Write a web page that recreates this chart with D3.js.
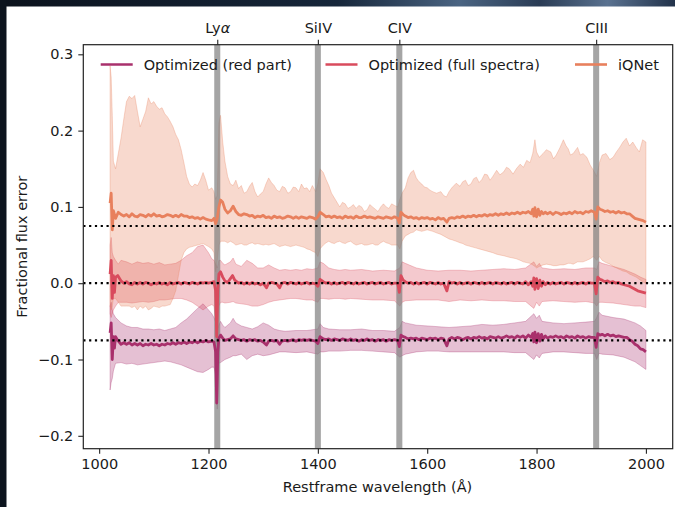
<!DOCTYPE html>
<html><head><meta charset="utf-8">
<script src="https://cdn.jsdelivr.net/npm/d3@7"></script>
<style>body{margin:0;background:#fff}svg{display:block}text{font-family:"DejaVu Sans",sans-serif}</style>
</head><body><svg id="c" width="675" height="507"></svg>
<script>
// ---- data ----
const seriesNames = ["Optimized (red part)", "Optimized (full spectra)", "iQNet"];
const seriesColors = ["#a9306c", "#d94b5d", "#e8805d"];
const xTicks = [1000, 1200, 1400, 1600, 1800, 2000];
const yTicks = [-0.2, -0.1, 0.0, 0.1, 0.2, 0.3];
const refLevels = [0.075, 0.0, -0.075];
const lineNames = ["Ly\u03b1", "SiIV", "CIV", "CIII"];
const lineWaves = [1216, 1400, 1549, 1909];

// [wavelength, median]
const redMedian = [[1020,-0.065],[1022,-0.052],[1024,-0.1],[1026,-0.07],[1028,-0.085],[1030,-0.07],[1034,-0.075],[1040,-0.08],[1045,-0.078],[1050,-0.08],[1055,-0.078],[1060,-0.081],[1065,-0.079],[1070,-0.081],[1075,-0.079],[1080,-0.082],[1085,-0.08],[1090,-0.081],[1095,-0.079],[1100,-0.081],[1105,-0.08],[1110,-0.082],[1115,-0.08],[1120,-0.081],[1125,-0.079],[1130,-0.08],[1135,-0.078],[1140,-0.08],[1145,-0.078],[1150,-0.079],[1155,-0.077],[1160,-0.079],[1165,-0.077],[1170,-0.078],[1175,-0.076],[1180,-0.078],[1185,-0.076],[1190,-0.077],[1195,-0.075],[1200,-0.077],[1206,-0.076],[1210,-0.077],[1213,-0.09],[1215,-0.157],[1217,-0.09],[1219,-0.072],[1222,-0.068],[1226,-0.072],[1230,-0.075],[1235,-0.074],[1240,-0.073],[1245,-0.069],[1250,-0.073],[1255,-0.074],[1260,-0.075],[1265,-0.074],[1270,-0.076],[1275,-0.074],[1280,-0.075],[1285,-0.074],[1290,-0.076],[1295,-0.075],[1300,-0.077],[1306,-0.081],[1310,-0.076],[1315,-0.075],[1320,-0.076],[1325,-0.075],[1330,-0.08],[1334,-0.076],[1340,-0.075],[1345,-0.076],[1350,-0.075],[1355,-0.074],[1360,-0.076],[1365,-0.074],[1370,-0.075],[1375,-0.074],[1380,-0.075],[1385,-0.074],[1390,-0.075],[1396,-0.076],[1400,-0.079],[1404,-0.07],[1410,-0.073],[1415,-0.074],[1420,-0.073],[1425,-0.075],[1430,-0.073],[1435,-0.074],[1440,-0.075],[1445,-0.073],[1450,-0.074],[1455,-0.075],[1460,-0.073],[1465,-0.075],[1470,-0.074],[1475,-0.076],[1480,-0.074],[1485,-0.075],[1490,-0.073],[1495,-0.075],[1500,-0.074],[1505,-0.076],[1510,-0.074],[1515,-0.075],[1520,-0.074],[1525,-0.076],[1530,-0.074],[1535,-0.075],[1540,-0.074],[1546,-0.075],[1549,-0.083],[1552,-0.068],[1556,-0.07],[1560,-0.071],[1565,-0.073],[1570,-0.072],[1575,-0.073],[1580,-0.072],[1585,-0.074],[1590,-0.072],[1595,-0.073],[1600,-0.074],[1605,-0.072],[1610,-0.073],[1615,-0.072],[1620,-0.074],[1625,-0.072],[1630,-0.073],[1636,-0.082],[1640,-0.073],[1645,-0.071],[1650,-0.073],[1655,-0.071],[1660,-0.072],[1665,-0.074],[1670,-0.072],[1675,-0.071],[1680,-0.073],[1685,-0.071],[1690,-0.072],[1695,-0.07],[1700,-0.072],[1705,-0.071],[1710,-0.073],[1715,-0.07],[1720,-0.071],[1725,-0.072],[1730,-0.07],[1735,-0.072],[1740,-0.071],[1745,-0.069],[1750,-0.071],[1755,-0.07],[1760,-0.072],[1765,-0.069],[1770,-0.071],[1775,-0.069],[1780,-0.072],[1785,-0.068],[1790,-0.071],[1793,-0.066],[1795,-0.077],[1797,-0.064],[1800,-0.078],[1803,-0.066],[1806,-0.076],[1809,-0.067],[1812,-0.073],[1816,-0.069],[1820,-0.072],[1825,-0.07],[1830,-0.071],[1835,-0.069],[1840,-0.071],[1845,-0.07],[1850,-0.072],[1855,-0.069],[1860,-0.071],[1865,-0.07],[1870,-0.072],[1875,-0.069],[1880,-0.071],[1885,-0.07],[1890,-0.072],[1895,-0.07],[1900,-0.071],[1906,-0.071],[1909,-0.084],[1912,-0.066],[1916,-0.068],[1920,-0.067],[1925,-0.069],[1930,-0.067],[1935,-0.069],[1940,-0.068],[1945,-0.07],[1950,-0.069],[1955,-0.07],[1960,-0.071],[1965,-0.071],[1970,-0.074],[1975,-0.076],[1980,-0.08],[1985,-0.082],[1990,-0.086],[1995,-0.087],[2000,-0.09]];
// [wavelength, low, high]
const redBand = [[1020,-0.14,-0.03],[1022,-0.13,-0.025],[1024,-0.125,-0.035],[1026,-0.115,-0.04],[1030,-0.105,-0.045],[1040,-0.104,-0.052],[1050,-0.106,-0.056],[1060,-0.105,-0.058],[1070,-0.107,-0.058],[1080,-0.106,-0.06],[1090,-0.105,-0.06],[1100,-0.104,-0.061],[1110,-0.103,-0.06],[1120,-0.102,-0.062],[1130,-0.103,-0.06],[1140,-0.105,-0.058],[1150,-0.107,-0.052],[1160,-0.11,-0.047],[1170,-0.113,-0.04],[1180,-0.116,-0.033],[1190,-0.117,-0.027],[1200,-0.113,-0.035],[1206,-0.11,-0.04],[1210,-0.11,-0.045],[1213,-0.12,-0.05],[1216,-0.165,-0.06],[1219,-0.105,-0.055],[1222,-0.104,-0.05],[1226,-0.102,-0.055],[1230,-0.1,-0.058],[1240,-0.097,-0.052],[1245,-0.095,-0.046],[1250,-0.095,-0.052],[1260,-0.093,-0.056],[1270,-0.1,-0.058],[1280,-0.095,-0.06],[1290,-0.093,-0.057],[1300,-0.095,-0.052],[1310,-0.094,-0.055],[1320,-0.092,-0.06],[1330,-0.09,-0.062],[1340,-0.09,-0.063],[1360,-0.091,-0.062],[1380,-0.09,-0.062],[1400,-0.093,-0.06],[1404,-0.09,-0.053],[1410,-0.09,-0.058],[1420,-0.089,-0.06],[1440,-0.089,-0.061],[1460,-0.088,-0.061],[1480,-0.088,-0.06],[1500,-0.089,-0.062],[1520,-0.09,-0.062],[1540,-0.091,-0.063],[1550,-0.097,-0.058],[1554,-0.095,-0.05],[1560,-0.093,-0.052],[1580,-0.09,-0.055],[1600,-0.089,-0.056],[1620,-0.089,-0.057],[1640,-0.09,-0.058],[1660,-0.09,-0.057],[1680,-0.09,-0.056],[1700,-0.09,-0.054],[1720,-0.09,-0.055],[1740,-0.09,-0.054],[1760,-0.091,-0.052],[1780,-0.091,-0.05],[1795,-0.1,-0.04],[1800,-0.094,-0.046],[1805,-0.098,-0.042],[1810,-0.092,-0.05],[1830,-0.09,-0.052],[1850,-0.09,-0.053],[1870,-0.091,-0.052],[1890,-0.092,-0.051],[1906,-0.092,-0.05],[1910,-0.1,-0.045],[1914,-0.092,-0.038],[1920,-0.093,-0.042],[1940,-0.094,-0.045],[1960,-0.097,-0.047],[1980,-0.103,-0.052],[1990,-0.108,-0.056],[2000,-0.113,-0.062]];

const fullMedian = [[1020,0.012],[1022,0.03],[1024,-0.02],[1026,0.01],[1028,-0.012],[1030,0.008],[1034,0.01],[1040,0.003],[1045,0.0],[1050,0.002],[1055,-0.001],[1060,-0.002],[1065,0.001],[1070,-0.001],[1075,0.001],[1080,-0.001],[1085,0.001],[1090,0.0],[1095,-0.002],[1100,0.0],[1105,-0.001],[1110,0.001],[1115,-0.001],[1120,0.0],[1125,-0.002],[1130,0.001],[1135,-0.001],[1140,0.0],[1145,0.001],[1150,-0.001],[1155,0.001],[1160,0.0],[1165,-0.001],[1170,0.001],[1175,0.0],[1180,-0.001],[1185,0.001],[1190,0.0],[1195,0.001],[1200,0.0],[1206,0.001],[1210,0.002],[1213,-0.01],[1215,-0.07],[1217,-0.01],[1219,0.012],[1222,0.015],[1226,0.008],[1230,0.003],[1235,0.001],[1240,0.006],[1244,0.01],[1248,0.004],[1255,0.0],[1260,0.001],[1265,-0.001],[1270,0.001],[1275,-0.001],[1280,0.001],[1285,-0.001],[1290,0.0],[1295,-0.002],[1300,0.0],[1306,-0.006],[1310,0.0],[1315,0.001],[1320,0.0],[1325,-0.001],[1330,-0.006],[1334,0.0],[1340,0.001],[1345,-0.001],[1350,0.001],[1355,0.0],[1360,-0.001],[1365,0.001],[1370,-0.001],[1375,0.0],[1380,0.001],[1385,-0.001],[1390,0.0],[1396,-0.001],[1400,-0.004],[1404,0.005],[1410,0.002],[1415,0.0],[1420,0.001],[1425,-0.001],[1430,0.001],[1435,-0.001],[1440,0.0],[1445,0.001],[1450,-0.001],[1455,0.001],[1460,0.0],[1465,-0.001],[1470,0.001],[1475,-0.001],[1480,0.0],[1485,0.001],[1490,-0.001],[1495,0.0],[1500,0.001],[1505,-0.001],[1510,0.0],[1515,0.001],[1520,-0.001],[1525,0.0],[1530,0.001],[1535,-0.001],[1540,0.0],[1546,0.0],[1549,-0.012],[1552,0.01],[1556,0.004],[1560,0.002],[1565,0.0],[1570,0.001],[1575,-0.001],[1580,0.001],[1585,-0.001],[1590,0.0],[1595,0.001],[1600,-0.001],[1605,0.001],[1610,0.0],[1615,-0.001],[1620,0.001],[1625,-0.001],[1630,0.0],[1636,-0.01],[1640,0.002],[1645,0.0],[1650,0.001],[1655,-0.001],[1660,0.001],[1665,-0.001],[1670,0.0],[1675,0.001],[1680,-0.001],[1685,0.001],[1690,0.0],[1695,-0.001],[1700,0.001],[1705,-0.001],[1710,0.0],[1715,0.001],[1720,-0.001],[1725,0.001],[1730,0.0],[1735,-0.001],[1740,0.001],[1745,-0.001],[1750,0.0],[1755,0.001],[1760,-0.001],[1765,0.001],[1770,0.0],[1775,-0.001],[1780,0.002],[1785,-0.002],[1790,0.002],[1793,-0.004],[1795,0.007],[1797,-0.008],[1800,0.006],[1803,-0.007],[1806,0.004],[1809,-0.004],[1812,0.002],[1816,-0.002],[1820,0.001],[1825,-0.001],[1830,0.001],[1835,-0.001],[1840,0.0],[1845,0.001],[1850,-0.001],[1855,0.001],[1860,0.0],[1865,-0.001],[1870,0.001],[1875,-0.001],[1880,0.0],[1885,0.001],[1890,-0.001],[1895,0.001],[1900,0.0],[1906,0.0],[1909,-0.014],[1912,0.008],[1916,0.005],[1920,0.004],[1925,0.002],[1930,0.003],[1935,0.001],[1940,0.002],[1945,0.0],[1950,0.001],[1955,-0.001],[1960,-0.002],[1965,-0.003],[1970,-0.004],[1975,-0.006],[1980,-0.008],[1985,-0.01],[1990,-0.011],[1995,-0.012],[2000,-0.013]];
const fullBand = [[1020,-0.04,0.05],[1022,-0.045,0.06],[1024,-0.04,0.04],[1026,-0.035,0.035],[1030,-0.03,0.03],[1035,-0.025,0.025],[1040,-0.025,0.03],[1050,-0.025,0.028],[1060,-0.026,0.025],[1070,-0.025,0.028],[1080,-0.024,0.026],[1090,-0.025,0.027],[1100,-0.024,0.025],[1110,-0.022,0.027],[1120,-0.022,0.024],[1130,-0.021,0.025],[1140,-0.02,0.026],[1150,-0.02,0.03],[1160,-0.022,0.036],[1170,-0.025,0.04],[1180,-0.03,0.048],[1190,-0.035,0.05],[1200,-0.03,0.04],[1206,-0.028,0.032],[1210,-0.03,0.03],[1213,-0.05,0.025],[1216,-0.08,0.02],[1219,-0.03,0.03],[1222,-0.025,0.03],[1226,-0.025,0.026],[1230,-0.026,0.024],[1240,-0.025,0.028],[1245,-0.024,0.033],[1250,-0.026,0.025],[1260,-0.027,0.022],[1270,-0.028,0.03],[1280,-0.03,0.026],[1290,-0.03,0.02],[1300,-0.028,0.02],[1310,-0.025,0.024],[1320,-0.023,0.02],[1330,-0.022,0.017],[1340,-0.021,0.018],[1350,-0.02,0.017],[1360,-0.02,0.018],[1370,-0.021,0.017],[1380,-0.022,0.019],[1390,-0.022,0.018],[1400,-0.025,0.02],[1404,-0.02,0.028],[1410,-0.02,0.026],[1420,-0.021,0.02],[1430,-0.02,0.018],[1440,-0.02,0.017],[1450,-0.021,0.018],[1460,-0.02,0.017],[1480,-0.021,0.018],[1500,-0.022,0.016],[1520,-0.022,0.017],[1540,-0.023,0.016],[1550,-0.03,0.02],[1554,-0.025,0.028],[1560,-0.023,0.026],[1580,-0.022,0.02],[1600,-0.022,0.017],[1620,-0.022,0.016],[1640,-0.024,0.017],[1660,-0.022,0.017],[1680,-0.023,0.016],[1700,-0.022,0.017],[1720,-0.023,0.018],[1740,-0.023,0.019],[1760,-0.024,0.018],[1780,-0.024,0.02],[1795,-0.033,0.028],[1800,-0.025,0.022],[1805,-0.03,0.026],[1810,-0.024,0.02],[1830,-0.023,0.018],[1850,-0.024,0.019],[1870,-0.025,0.018],[1890,-0.024,0.02],[1906,-0.026,0.02],[1910,-0.03,0.018],[1914,-0.025,0.028],[1920,-0.025,0.026],[1940,-0.026,0.022],[1960,-0.028,0.018],[1980,-0.03,0.012],[1990,-0.03,0.008],[2000,-0.032,0.005]];

const iqnetMedian = [[1020,0.105],[1022,0.118],[1024,0.07],[1026,0.095],[1030,0.085],[1035,0.093],[1040,0.09],[1045,0.088],[1050,0.09],[1055,0.087],[1060,0.091],[1065,0.088],[1070,0.087],[1075,0.09],[1080,0.089],[1085,0.087],[1090,0.09],[1095,0.088],[1100,0.091],[1105,0.088],[1110,0.089],[1115,0.087],[1120,0.088],[1125,0.09],[1130,0.089],[1135,0.087],[1140,0.089],[1145,0.087],[1150,0.09],[1155,0.088],[1160,0.088],[1165,0.086],[1170,0.087],[1175,0.085],[1180,0.086],[1185,0.084],[1190,0.086],[1195,0.084],[1200,0.083],[1206,0.082],[1210,0.085],[1213,0.078],[1216,0.085],[1219,0.1],[1222,0.109],[1226,0.106],[1230,0.097],[1235,0.092],[1240,0.095],[1245,0.101],[1250,0.094],[1255,0.09],[1260,0.089],[1265,0.091],[1270,0.09],[1275,0.088],[1280,0.089],[1285,0.086],[1290,0.088],[1295,0.087],[1300,0.089],[1305,0.086],[1310,0.087],[1315,0.085],[1320,0.088],[1325,0.086],[1330,0.087],[1335,0.085],[1340,0.086],[1345,0.088],[1350,0.087],[1355,0.085],[1360,0.087],[1365,0.085],[1370,0.087],[1375,0.086],[1380,0.085],[1385,0.087],[1390,0.086],[1396,0.084],[1400,0.087],[1404,0.093],[1410,0.09],[1415,0.087],[1420,0.088],[1425,0.086],[1430,0.088],[1435,0.086],[1440,0.087],[1445,0.085],[1450,0.088],[1455,0.086],[1460,0.087],[1465,0.085],[1470,0.088],[1475,0.086],[1480,0.086],[1485,0.088],[1490,0.086],[1495,0.087],[1500,0.086],[1505,0.085],[1510,0.087],[1515,0.086],[1520,0.085],[1525,0.087],[1530,0.086],[1535,0.085],[1540,0.087],[1546,0.085],[1549,0.079],[1552,0.093],[1556,0.09],[1560,0.088],[1565,0.086],[1570,0.087],[1575,0.085],[1580,0.086],[1585,0.084],[1590,0.086],[1595,0.085],[1600,0.086],[1605,0.084],[1610,0.085],[1615,0.083],[1620,0.086],[1625,0.084],[1630,0.085],[1636,0.08],[1640,0.085],[1645,0.086],[1650,0.085],[1655,0.087],[1660,0.086],[1665,0.088],[1670,0.086],[1675,0.088],[1680,0.087],[1685,0.089],[1690,0.087],[1695,0.089],[1700,0.088],[1705,0.09],[1710,0.088],[1715,0.09],[1720,0.089],[1725,0.091],[1730,0.089],[1735,0.091],[1740,0.09],[1745,0.092],[1750,0.09],[1755,0.092],[1760,0.091],[1765,0.093],[1770,0.091],[1775,0.093],[1780,0.092],[1785,0.094],[1790,0.091],[1793,0.097],[1795,0.088],[1797,0.099],[1800,0.087],[1803,0.097],[1806,0.089],[1809,0.094],[1812,0.091],[1816,0.093],[1820,0.091],[1825,0.093],[1830,0.09],[1835,0.093],[1840,0.092],[1845,0.09],[1850,0.092],[1855,0.091],[1860,0.093],[1865,0.091],[1870,0.094],[1875,0.092],[1880,0.093],[1885,0.091],[1890,0.094],[1895,0.093],[1900,0.095],[1906,0.093],[1909,0.084],[1912,0.1],[1916,0.097],[1920,0.096],[1925,0.094],[1930,0.095],[1935,0.093],[1940,0.094],[1945,0.092],[1950,0.094],[1955,0.092],[1960,0.093],[1965,0.091],[1970,0.091],[1975,0.088],[1980,0.085],[1985,0.084],[1990,0.083],[1995,0.082],[2000,0.08]];
const iqnetBand = [[1020,-0.03,0.285],[1022,-0.035,0.27],[1024,-0.03,0.22],[1026,-0.02,0.16],[1030,-0.02,0.15],[1035,-0.025,0.17],[1040,-0.03,0.19],[1045,-0.03,0.215],[1050,-0.03,0.238],[1055,-0.03,0.245],[1060,-0.032,0.242],[1065,-0.03,0.246],[1070,-0.035,0.225],[1075,-0.03,0.205],[1080,-0.033,0.215],[1085,-0.03,0.225],[1090,-0.035,0.243],[1095,-0.033,0.235],[1100,-0.03,0.238],[1105,-0.031,0.232],[1110,-0.032,0.228],[1115,-0.03,0.23],[1120,-0.03,0.222],[1125,-0.029,0.218],[1130,-0.028,0.212],[1135,-0.02,0.205],[1140,-0.01,0.195],[1145,0.01,0.188],[1150,0.03,0.175],[1155,0.04,0.158],[1160,0.045,0.14],[1165,0.047,0.13],[1170,0.048,0.126],[1175,0.049,0.13],[1180,0.05,0.128],[1185,0.051,0.135],[1190,0.052,0.145],[1195,0.05,0.135],[1200,0.048,0.122],[1206,0.045,0.125],[1210,0.04,0.12],[1213,0.015,0.11],[1216,0.03,0.115],[1219,0.05,0.21],[1222,0.055,0.22],[1226,0.055,0.185],[1230,0.055,0.16],[1235,0.053,0.14],[1240,0.055,0.13],[1245,0.053,0.128],[1250,0.05,0.135],[1255,0.051,0.124],[1260,0.052,0.128],[1265,0.05,0.118],[1270,0.05,0.12],[1275,0.052,0.127],[1280,0.053,0.132],[1285,0.051,0.12],[1290,0.052,0.113],[1295,0.051,0.117],[1300,0.05,0.12],[1305,0.051,0.13],[1310,0.05,0.138],[1315,0.051,0.132],[1320,0.052,0.128],[1325,0.05,0.122],[1330,0.048,0.12],[1335,0.049,0.127],[1340,0.05,0.125],[1345,0.049,0.118],[1350,0.048,0.12],[1355,0.049,0.126],[1360,0.05,0.125],[1365,0.049,0.12],[1370,0.048,0.13],[1375,0.047,0.124],[1380,0.045,0.125],[1385,0.044,0.12],[1390,0.042,0.128],[1396,0.04,0.12],[1400,0.035,0.13],[1404,0.045,0.15],[1410,0.05,0.145],[1415,0.053,0.136],[1420,0.055,0.128],[1425,0.053,0.118],[1430,0.052,0.112],[1435,0.054,0.106],[1440,0.055,0.1],[1445,0.053,0.106],[1450,0.052,0.104],[1455,0.054,0.098],[1460,0.055,0.1],[1465,0.052,0.103],[1470,0.05,0.098],[1475,0.051,0.102],[1480,0.052,0.1],[1485,0.05,0.094],[1490,0.05,0.096],[1495,0.051,0.103],[1500,0.052,0.1],[1505,0.05,0.097],[1510,0.05,0.094],[1515,0.053,0.1],[1520,0.055,0.104],[1525,0.053,0.1],[1530,0.052,0.098],[1535,0.05,0.104],[1540,0.05,0.102],[1546,0.05,0.1],[1550,0.045,0.11],[1554,0.055,0.118],[1560,0.062,0.125],[1565,0.064,0.138],[1570,0.066,0.145],[1575,0.067,0.148],[1580,0.07,0.138],[1585,0.069,0.133],[1590,0.068,0.13],[1595,0.069,0.126],[1600,0.07,0.125],[1605,0.069,0.122],[1610,0.068,0.12],[1617,0.066,0.118],[1625,0.064,0.12],[1630,0.062,0.115],[1635,0.06,0.113],[1640,0.058,0.12],[1645,0.057,0.125],[1653,0.055,0.131],[1660,0.053,0.127],[1665,0.052,0.133],[1670,0.05,0.135],[1675,0.049,0.128],[1680,0.048,0.13],[1685,0.047,0.137],[1690,0.046,0.139],[1695,0.045,0.132],[1700,0.044,0.136],[1705,0.043,0.143],[1710,0.042,0.142],[1715,0.041,0.135],[1720,0.04,0.14],[1727,0.038,0.148],[1733,0.037,0.142],[1740,0.036,0.146],[1745,0.035,0.152],[1750,0.034,0.15],[1757,0.033,0.143],[1763,0.032,0.15],[1770,0.03,0.156],[1776,0.028,0.152],[1782,0.027,0.161],[1788,0.026,0.158],[1793,0.024,0.17],[1797,0.022,0.188],[1800,0.02,0.172],[1805,0.022,0.165],[1812,0.024,0.17],[1818,0.025,0.175],[1826,0.024,0.172],[1831,0.023,0.163],[1836,0.023,0.168],[1843,0.024,0.178],[1849,0.024,0.188],[1854,0.025,0.18],[1858,0.026,0.176],[1862,0.026,0.168],[1867,0.025,0.17],[1875,0.028,0.178],[1880,0.028,0.168],[1885,0.028,0.17],[1892,0.03,0.165],[1898,0.032,0.155],[1904,0.035,0.148],[1910,0.03,0.14],[1915,0.035,0.158],[1920,0.03,0.168],[1927,0.027,0.17],[1934,0.025,0.162],[1940,0.022,0.165],[1946,0.02,0.172],[1952,0.018,0.178],[1958,0.016,0.185],[1964,0.015,0.19],[1970,0.012,0.18],[1976,0.01,0.185],[1982,0.008,0.178],[1988,0.005,0.172],[1994,0.002,0.188],[2000,0.0,0.185]];

const medians = [redMedian, fullMedian, iqnetMedian];
const bands = [redBand, fullBand, iqnetBand];

// ---- layout ----
const svg = d3.select("#c");
const L = 83.3, R = 672.7, T = 44.7, B = 448.7;
const x = d3.scaleLinear().domain([971, 2049]).range([L, R]);
const y = d3.scaleLinear().domain([-0.2169, 0.3126]).range([B, T]);

// screenshot background strips
const defs = svg.append("defs");
const g1 = defs.append("linearGradient").attr("id", "bgtop").attr("x1", 0).attr("x2", 1).attr("y1", 0).attr("y2", 0);
[[0, "#0b121c"], [0.5, "#16263a"], [0.68, "#4a6482"], [0.8, "#2a3c55"], [0.9, "#5a7290"], [1, "#22324a"]].forEach(s => g1.append("stop").attr("offset", s[0]).attr("stop-color", s[1]));
svg.append("rect").attr("x", 0).attr("y", 0).attr("width", 675).attr("height", 507).attr("fill", "#fff");
svg.append("rect").attr("x", 0).attr("y", 0).attr("width", 675).attr("height", 6.5).attr("fill", "url(#bgtop)");
svg.append("rect").attr("x", 0).attr("y", 0).attr("width", 6.5).attr("height", 507).attr("fill", "#0c141e");

defs.append("clipPath").attr("id", "clip").append("rect").attr("x", L).attr("y", T).attr("width", R - L).attr("height", B - T);
const plot = svg.append("g").attr("clip-path", "url(#clip)");

const area = d3.area().x(d => x(d[0])).y0(d => y(d[1])).y1(d => y(d[2]));
const line = d3.line().x(d => x(d[0])).y(d => y(d[1]));

// fills
bands.forEach((b, i) => {
  plot.append("path").datum(b).attr("d", area)
    .attr("fill", seriesColors[i]).attr("fill-opacity", 0.3)
    .attr("stroke", seriesColors[i]).attr("stroke-opacity", 0.3).attr("stroke-width", 1);
});

// emission-line spans
lineWaves.forEach(w => {
  plot.append("rect").attr("x", x(w - 5.5)).attr("width", x(w + 5.5) - x(w - 5.5))
    .attr("y", T).attr("height", B - T).attr("fill", "#7f7f7f").attr("fill-opacity", 0.7);
});

// median lines
medians.forEach((m, i) => {
  plot.append("path").datum(m).attr("d", line)
    .attr("fill", "none").attr("stroke", seriesColors[i]).attr("stroke-width", 2.8).attr("stroke-linejoin", "round");
});

// dotted reference lines
refLevels.forEach(v => {
  plot.append("line").attr("x1", L).attr("x2", R).attr("y1", y(v)).attr("y2", y(v))
    .attr("stroke", "#000").attr("stroke-width", 2.2).attr("stroke-dasharray", "2.2,3.6");
});

// axes
const fs = "14.5px";
const xAxis = svg.append("g").attr("transform", `translate(0,${B})`)
  .call(d3.axisBottom(x).tickValues(xTicks).tickFormat(d3.format("d")).tickSize(5).tickPadding(5));
const yAxis = svg.append("g").attr("transform", `translate(${L},0)`)
  .call(d3.axisLeft(y).tickValues(yTicks).tickFormat(d => d3.format(".1f")(d).replace("-", "\u2212")).tickSize(5).tickPadding(5));
const topAxis = svg.append("g").attr("transform", `translate(0,${T})`)
  .call(d3.axisTop(x).tickValues(lineWaves).tickFormat((d, i) => lineNames[i]).tickSize(5).tickPadding(7));
[xAxis, yAxis, topAxis].forEach(a => {
  a.selectAll("text").style("font-size", fs).attr("fill", "#1a1a1a");
  a.selectAll("line").attr("stroke", "#222").attr("stroke-width", 1.1);
  a.select(".domain").remove();
});
// Ly alpha with italic alpha
topAxis.selectAll("text").filter((d, i) => i === 0).text("Ly").append("tspan").attr("font-style", "italic").text("\u03b1");

// frame
svg.append("rect").attr("x", L).attr("y", T).attr("width", R - L).attr("height", B - T)
  .attr("fill", "none").attr("stroke", "#222").attr("stroke-width", 1.2);

// axis labels
svg.append("text").attr("x", (L + R) / 2 - 0.5).attr("y", 492).attr("text-anchor", "middle")
  .style("font-size", fs).attr("fill", "#1a1a1a").text("Restframe wavelength (\u00c5)");
svg.append("text").attr("transform", `translate(27,${(T + B) / 2}) rotate(-90)`).attr("text-anchor", "middle")
  .style("font-size", fs).attr("fill", "#1a1a1a").text("Fractional flux error");

// legend
const legX = [100.7, 325.5, 575];
seriesNames.forEach((n, i) => {
  svg.append("line").attr("x1", legX[i]).attr("x2", legX[i] + 32).attr("y1", 64.5).attr("y2", 64.5)
    .attr("stroke", seriesColors[i]).attr("stroke-width", 2.6);
  svg.append("text").attr("x", legX[i] + 43).attr("y", 69.5).style("font-size", fs)
    .attr("fill", "#1a1a1a").text(n);
});
</script></body></html>
